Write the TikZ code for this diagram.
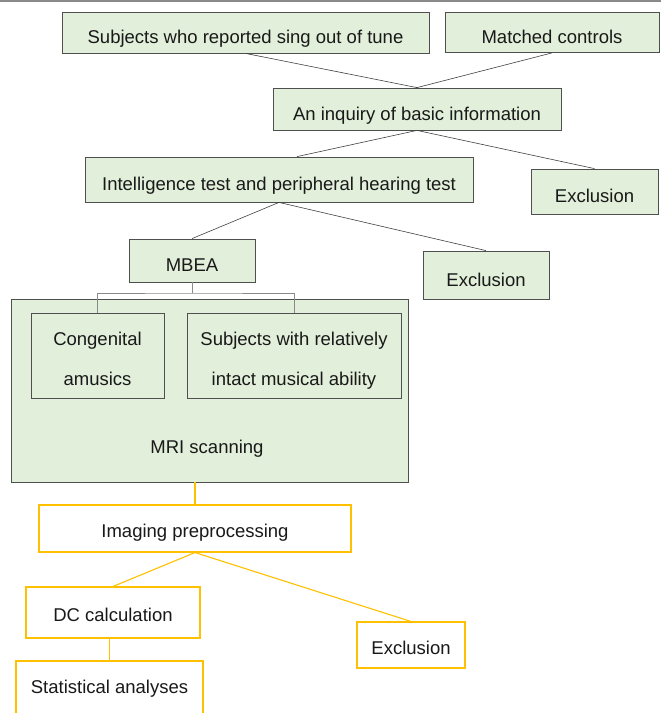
\documentclass[tikz,border=0pt]{standalone}
\usepackage{fontspec}
\setmainfont{Liberation Sans}
\usetikzlibrary{calc}
\definecolor{boxgreen}{HTML}{E2EFDA}
\definecolor{boxedge}{HTML}{4F4F4F}
\definecolor{linkgray}{HTML}{404040}
\definecolor{bracketgray}{HTML}{8A8A8A}
\definecolor{amber}{HTML}{FFC000}
\tikzset{
	greenbox/.style={draw=boxedge, fill=boxgreen, line width=0.8pt, inner sep=0pt,
			text=black!90, align=center, font=\fontsize{18.5}{40}\selectfont,
			text height=22.4pt, text depth=0pt},
	amberbox/.style={draw=amber, fill=white, line width=1.1pt, inner sep=0pt,
			text=black!90, align=center, font=\fontsize{18.5}{40}\selectfont,
			text height=18pt, text depth=0pt},
	twoline/.style={text height=59pt},
	link/.style={draw=linkgray, line width=0.6pt},
	amberlink/.style={draw=amber, line width=1.1pt}
}
\begin{document}
\begin{tikzpicture}[x=1pt,y=-1pt]

			\useasboundingbox (0,0) rectangle (661,713);
			\clip (0,0) rectangle (661,713);

			% Top rule
			\draw[bracketgray, line width=1.5pt] (0,0.75) -- (661,0.75);

			% Screening boxes
			\node[greenbox, minimum width=367, minimum height=41] (subj) at (245.5,32.5) {Subjects who reported sing out of tune};
			\node[greenbox, minimum width=214, minimum height=40] (match) at (552,32.5) {Matched controls};
			\node[greenbox, minimum width=288, minimum height=42] (inq) at (417,109) {An inquiry of basic information};
			\node[greenbox, minimum width=388, minimum height=45] (intel) at (279,179.5) {Intelligence test and peripheral hearing test};
			\node[greenbox, minimum width=127, minimum height=45] (exa) at (594.5,191.5) {Exclusion};
			\node[greenbox, minimum width=126, minimum height=43] (mbea) at (192,260.5) {MBEA};
			\node[greenbox, minimum width=126, minimum height=48] (exb) at (486,275) {Exclusion};

			% MRI group
			\node[greenbox, minimum width=397, minimum height=183] (mri) at (209.5,390.5) {};
			\node[greenbox, twoline, minimum width=133, minimum height=85] (cong) at (97.5,355.5) {Congenital\\amusics};
			\node[greenbox, twoline, minimum width=214, minimum height=85] (intact) at (294,355.5) {Subjects with relatively\\intact musical ability};
			\node[font=\fontsize{18.5}{40}\selectfont, text=black!90, inner sep=0pt,
				text height=22.4pt, text depth=0pt] (mrilabel) at (207,442) {MRI scanning};

			% Analysis boxes
			\node[amberbox, minimum width=312, minimum height=47] (prep) at (195,528.5) {Imaging preprocessing};
			\node[amberbox, minimum width=174, minimum height=51] (dc) at (113,612.5) {DC calculation};
			\node[amberbox, minimum width=108, minimum height=46] (exc) at (411,645) {Exclusion};
			\node[amberbox, minimum width=187, minimum height=60, text height=4.6pt] (stat) at (109.5,691) {Statistical analyses};

			% Draw the links
			\foreach \a/\b in {subj/inq, match/inq, inq/exa, intel/mbea, intel/exb} {
					\draw[link] (\a.south) -- (\b.north);
				}
			\draw[link] (inq.south) -- ([xshift=18]intel.north);

			% Draw the bracket
			\coordinate (split) at (192,293);
			\draw[bracketgray, line width=0.7pt] (mbea.south) -- (split);
			\draw[bracketgray, line width=0.7pt] (cong.north) |- (split) -| (intact.north);

			% Amber links
			\draw[amberlink] (prep.north) -- (prep.north |- mri.south);
			\foreach \b in {dc, exc} {
					\draw[amberlink] (prep.south) -- (\b.north);
				}
			\draw[amberlink] (stat.north) -- (stat.north |- dc.south);

		\end{tikzpicture}
\end{document}
